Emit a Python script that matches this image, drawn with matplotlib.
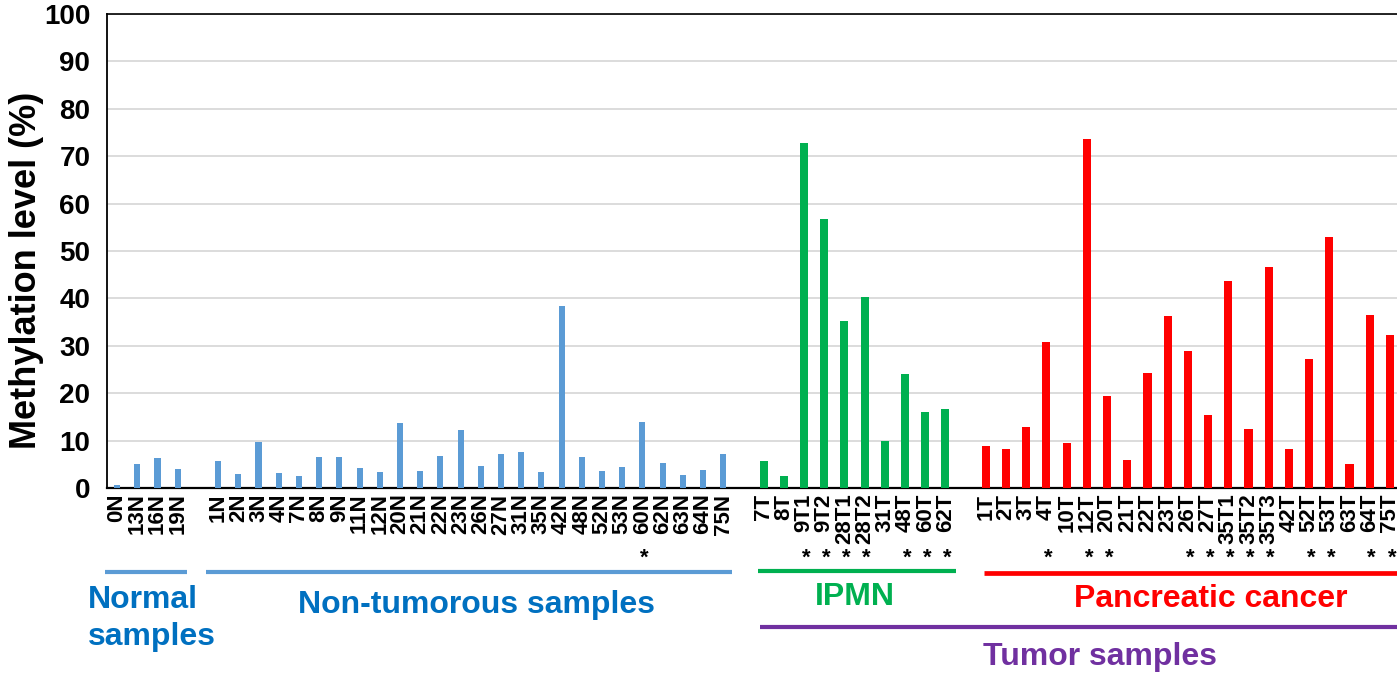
import matplotlib
matplotlib.use("Agg")
import matplotlib.pyplot as plt
import matplotlib.transforms as mtransforms

plt.rcParams['font.family'] = ['Liberation Sans', 'DejaVu Sans']
plt.rcParams['font.weight'] = 'bold'

# ---- data ----
normal_labels = ["0N", "13N", "16N", "19N"]
normal_values = [0.7, 5.1, 6.3, 4.0]
normal_star = [0, 0, 0, 0]

nontumor_labels = ["1N", "2N", "3N", "4N", "7N", "8N", "9N", "11N", "12N", "20N",
                   "21N", "22N", "23N", "26N", "27N", "31N", "35N", "42N", "48N",
                   "52N", "53N", "60N", "62N", "63N", "64N", "75N"]
nontumor_values = [5.7, 3.0, 9.8, 3.2, 2.5, 6.6, 6.5, 4.2, 3.4, 13.8,
                   3.65, 6.7, 12.3, 4.6, 7.2, 7.7, 3.4, 38.4, 6.5,
                   3.65, 4.5, 13.9, 5.3, 2.8, 3.9, 7.2]
nontumor_star = [0] * 21 + [1] + [0] * 4

ipmn_labels = ["7T", "8T", "9T1", "9T2", "28T1", "28T2", "31T", "48T", "60T", "62T"]
ipmn_values = [5.6, 2.45, 72.7, 56.7, 35.3, 40.4, 9.96, 24.1, 16.0, 16.6]
ipmn_star = [0, 0, 1, 1, 1, 1, 0, 1, 1, 1]

pc_labels = ["1T", "2T", "3T", "4T", "10T", "12T", "20T", "21T", "22T", "23T", "26T",
             "27T", "35T1", "35T2", "35T3", "42T", "52T", "53T", "63T", "64T", "75T"]
pc_values = [8.8, 8.3, 12.9, 30.9, 9.5, 73.7, 19.4, 5.9, 24.3, 36.3, 28.8,
             15.5, 43.7, 12.4, 46.7, 8.3, 27.3, 52.95, 5.0, 36.5, 32.3]
pc_star = [0, 0, 0, 1, 0, 1, 1, 0, 0, 0, 1, 1, 1, 1, 1, 0, 1, 1, 0, 1, 1]

yticks = [0, 10, 20, 30, 40, 50, 60, 70, 80, 90, 100]

groups = [
    (normal_labels, normal_values, normal_star, '#5B9BD5', 0.30),
    (nontumor_labels, nontumor_values, nontumor_star, '#5B9BD5', 0.30),
    (ipmn_labels, ipmn_values, ipmn_star, '#00B050', 0.40),
    (pc_labels, pc_values, pc_star, '#FF0000', 0.40),
]

W, H = 1397, 674
fig = plt.figure(figsize=(W / 100, H / 100), dpi=100)
ax_left, ax_right, ax_top, ax_bot = 107, 1400, 14, 488
ax_w = ax_right - ax_left
ax = fig.add_axes([ax_left / W, 1 - ax_bot / H, ax_w / W, (ax_bot - ax_top) / H])

pos = 0
all_pos, all_lab = [], []
group_ranges = []
star_pos = []
for labels, values, stars, color, width in groups:
    xs = list(range(pos, pos + len(labels)))
    ax.bar(xs, values, width=width, color=color, zorder=3)
    all_pos += xs
    all_lab += labels
    star_pos += [x for x, s in zip(xs, stars) if s]
    group_ranges.append((xs[0], xs[-1]))
    pos += len(labels) + 1

ax.set_xlim(-0.5, pos - 1.5)
ax.set_ylim(0, 100)
ax.set_yticks(yticks)
ax.set_yticklabels([str(v) for v in yticks], fontsize=20, fontweight='bold')
ax.set_xticks(all_pos)
ax.set_xticklabels(all_lab, rotation=90, fontsize=16, fontweight='bold', va='top', ha='center')
ax.tick_params(axis='both', length=0)
ax.tick_params(axis='y', pad=12)
ax.tick_params(axis='x', pad=4)
ax.grid(axis='y', color='#D9D9D9', linewidth=1.3, zorder=0)
ax.set_axisbelow(True)
for s in ['left', 'bottom', 'top', 'right']:
    ax.spines[s].set_color('black')
ax.spines['left'].set_linewidth(1.3)
ax.spines['bottom'].set_linewidth(1.6)
ax.spines['top'].set_linewidth(1.2)
ax.set_ylabel('Methylation level (%)', fontsize=26, fontweight='bold',
              rotation=90, ha='center', va='center')
ax.yaxis.set_label_coords((27 - ax_left) / ax_w, (ax_bot - 270) / (ax_bot - ax_top))

# asterisks
trans = mtransforms.blended_transform_factory(ax.transData, fig.transFigure)
for x in star_pos:
    ax.text(x + 0.1, 1 - 558 / H, '*', transform=trans, ha='center', va='center',
            fontsize=16, fontweight='bold', clip_on=False)

# group bracket lines
line_specs = [
    (0, -0.6, 0.45, 572, '#5B9BD5', 3.0),
    (1, -0.6, 0.45, 572, '#5B9BD5', 3.0),
    (2, -0.3, 0.5, 570.5, '#00B050', 3.0),
    (3, -0.1, 2.0, 572.5, '#FF0000', 3.4),
]
for gi, a, b, ypx, col, lw in line_specs:
    x0, x1 = group_ranges[gi]
    ax.plot([x0 + a, x1 + b], [1 - ypx / H] * 2, transform=trans, color=col,
            lw=lw, clip_on=False, solid_capstyle='butt')
x0 = group_ranges[2][0]
x1 = group_ranges[3][1]
ax.plot([x0 - 0.2, x1 + 2.0], [1 - 627 / H] * 2, transform=trans, color='#7030A0',
        lw=3.0, clip_on=False, solid_capstyle='butt')

# group labels
def ftext(xpx, ypx, s, color, ha='center'):
    fig.text(xpx / W, 1 - ypx / H, s, color=color, ha=ha, va='baseline',
             fontsize=23, fontweight='bold')

ftext(88, 608, 'Normal', '#0070C0', ha='left')
ftext(88, 645, 'samples', '#0070C0', ha='left')
ftext(477, 613, 'Non-tumorous samples', '#0070C0')
ftext(855, 605, 'IPMN', '#00B050')
ftext(1211, 607, 'Pancreatic cancer', '#FF0000')
ftext(1100, 665, 'Tumor samples', '#7030A0')

fig.savefig('out.png', dpi=100)
